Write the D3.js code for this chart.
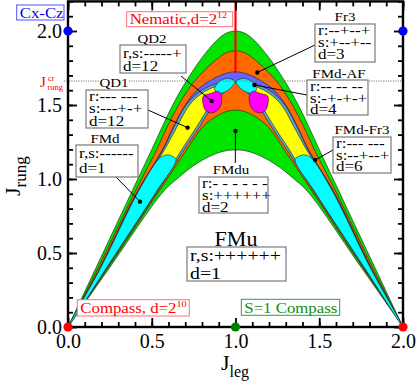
<!DOCTYPE html>
<html>
<head>
<meta charset="utf-8">
<script src="https://cdnjs.cloudflare.com/ajax/libs/d3/7.8.5/d3.min.js"></script>
<style>
body { margin: 0; background: #fff; }
svg { display: block; font-family: "Liberation Serif", "DejaVu Serif", serif; }
</style>
</head>
<body>
<div id="chart"></div>
<script>
// phase boundaries, left half only (J_leg <= 1), mirrored about J_leg = 1
var bOuterGreen  = [[0,0],[0.167,0.4],[0.38,0.912],[0.5,1.2],[0.56,1.347],[0.625,1.5],[0.7,1.65],[0.8,1.82],[0.9,1.95],[0.95,1.988],[1,2.0]];
var bFr3         = [[0,0],[0.18,0.4],[0.40,0.912],[0.53,1.2],[0.59,1.347],[0.66,1.5],[0.74,1.64],[0.82,1.74],[0.9,1.82],[0.95,1.855],[1,1.865]];
var bFMdAF       = [[0,0],[0.19,0.4],[0.412,0.912],[0.565,1.2],[0.627,1.347],[0.70,1.5],[0.77,1.6],[0.85,1.665],[0.92,1.705],[1,1.725]];
var bUpperStrip  = [[0,0],[0.192,0.4],[0.415,0.912],[0.568,1.2],[0.63,1.347],[0.705,1.5],[0.78,1.585],[0.86,1.635],[0.93,1.652],[1,1.655]];
var bQD1         = [[0,0],[0.195,0.4],[0.418,0.912],[0.577,1.2],[0.648,1.347],[0.725,1.5],[0.8,1.58],[0.88,1.625],[0.95,1.648],[1,1.655]];
var bLowerStrip  = [[0,0],[0.23,0.4],[0.525,0.912],[0.68,1.2],[0.765,1.347],[0.85,1.5],[0.9,1.57],[0.95,1.62],[1,1.655]];
var bLowerOrange = [[0,0],[0.235,0.4],[0.532,0.912],[0.695,1.2],[0.782,1.347],[0.868,1.5],[0.915,1.565],[0.96,1.62],[1,1.655]];
var bFMdu        = [[0,0],[0.24,0.4],[0.54,0.912],[0.71,1.2],[0.80,1.347],[0.86,1.405],[0.93,1.45],[1,1.466]];
var bFMu         = [[0,0],[0.248,0.4],[0.567,0.912],[0.65,1.0],[0.75,1.09],[0.85,1.155],[0.93,1.188],[1,1.196]];

// islands (left copies, mirrored too)
var fmdBlob   = [[0,0],[0.195,0.4],[0.418,0.912],[0.53,1.12],[0.56,1.152],[0.595,1.163],[0.625,1.152],[0.645,1.13],[0.526,0.912],[0.23,0.4]];
var cyanLobe  = [[0.875,1.61],[0.895,1.65],[0.93,1.675],[0.965,1.678],[0.99,1.667],[0.998,1.655],[0.98,1.625],[0.95,1.595],[0.91,1.58],[0.885,1.588]];
var qd2Lobe   = [[0.808,1.56],[0.85,1.577],[0.895,1.592],[0.915,1.57],[0.915,1.51],[0.893,1.465],[0.858,1.447],[0.824,1.46],[0.808,1.5]];

var jRungCr = 1.662;
var nematicTop = 1.716;

var phaseNames = ["QD2", "QD1", "FMd", "Fr3", "FMd-AF", "FMd-Fr3", "FMdu", "FMu"];
var phaseRS = [
    ["r,s:-----+", "d=12"],
    ["r:--- ---", "s:---+-+", "d=12"],
    ["r,s:------", "d=1"],
    ["r:--+--+", "s:+--+--", "d=3"],
    ["r:-- -- --", "s:-+-+-+", "d=4"],
    ["r:--- ---", "s:--+--+", "d=6"],
    ["r:- - - - - -", "s:++++++", "d=2"],
    ["r,s:++++++", "d=1"]
];
var phaseDots = [[0.858,1.527],[0.714,1.347],[0.43,0.847],[1.13,1.72],[1.113,1.635],[1.475,1.128],[1.0,1.324],null];

var xMajor = [0, 0.5, 1.0, 1.5, 2.0];
var yMajor = [0, 0.5, 1.0, 1.5, 2.0];

var W = 416, H = 384;
var SX = 1.2;

var svg = d3.select("#chart").append("svg")
    .attr("width", W)
    .attr("height", H);

var x = d3.scaleLinear().domain([0, 2]).range([68, 403]);
var y = d3.scaleLinear().domain([0, 2.2]).range([327, 1.4]);

var cr = d3.line().x(function(d){ return x(d[0]); }).y(function(d){ return y(d[1]); })
    .curve(d3.curveCatmullRom.alpha(0.5));
var crClosed = d3.line().x(function(d){ return x(d[0]); }).y(function(d){ return y(d[1]); })
    .curve(d3.curveCatmullRomClosed.alpha(0.5));

function mirror(pts){ return pts.map(function(p){ return [2 - p[0], p[1]]; }); }

function domePath(left, cusp){
    if (!cusp) {
        var right = mirror(left.slice(0, -1)).reverse();
        return cr(left.concat(right)) + "Z";
    }
    var r = mirror(left).reverse();
    return cr(left) + cr(r).replace(/^M/, "L") + "Z";
}

var GREEN = "#00e400", ORANGE = "#ff6a00", BLUE = "#6464ff", STEEL = "#58a6cc",
    YELLOW = "#ffff00", CYAN = "#00ffff", MAGENTA = "#ff00ff";

var domes = [
    { pts: bOuterGreen, fill: GREEN, cusp: false },
    { pts: bFr3, fill: ORANGE, cusp: false },
    { pts: bFMdAF, fill: BLUE, cusp: false },
    { pts: bUpperStrip, fill: STEEL, cusp: true },
    { pts: bQD1, fill: YELLOW, cusp: true },
    { pts: bLowerStrip, fill: STEEL, cusp: true },
    { pts: bLowerOrange, fill: ORANGE, cusp: true },
    { pts: bFMdu, fill: GREEN, cusp: false },
    { pts: bFMu, fill: "#ffffff", cusp: false }
];

var regions = svg.append("g");
domes.forEach(function(d){
    regions.append("path")
        .attr("d", domePath(d.pts, d.cusp))
        .attr("fill", d.fill)
        .attr("stroke", "#1a1a1a")
        .attr("stroke-width", 0.6);
});

// islands
[[fmdBlob, CYAN], [cyanLobe, CYAN], [qd2Lobe, MAGENTA]].forEach(function(isl){
    [isl[0], mirror(isl[0])].forEach(function(p){
        regions.append("path")
            .attr("d", crClosed(p))
            .attr("fill", isl[1])
            .attr("stroke", "#1a1a1a")
            .attr("stroke-width", 0.6);
    });
});

// nematic line
svg.append("line")
    .attr("x1", x(1)).attr("x2", x(1))
    .attr("y1", y(2.2)).attr("y2", y(nematicTop))
    .attr("stroke", "#ff0000").attr("stroke-width", 2.2);

// critical rung line
svg.append("line")
    .attr("x1", x(0) - 4).attr("x2", x(2))
    .attr("y1", y(jRungCr)).attr("y2", y(jRungCr))
    .attr("stroke", "#777").attr("stroke-width", 1)
    .attr("stroke-dasharray", "1.2,1.2");

function tx(parent, px, py, size, anchor, sx){
    return parent.append("g")
        .attr("transform", "translate(" + px + "," + py + ") scale(" + (sx || SX) + ",1)")
        .append("text")
        .attr("font-size", size)
        .attr("text-anchor", anchor || "start");
}

// annotation layout (pixels)
var layout = [
    { nx: 152, ny: 43,  bx: 120, by: 45,  bw: 66, bh: 28, base: [57.5, 71],          lx: 181, ly: 76 },
    { nx: 114, ny: 87,  bx: 86,  by: 90,  bw: 62, bh: 38, base: [100.5, 113, 125.5], lx: 148, ly: 110 },
    { nx: 105, ny: 143, bx: 76,  by: 145, bw: 62, bh: 32, base: [158, 173],          lx: 116, ly: 177 },
    { nx: 345, ny: 21,  bx: 315, by: 24,  bw: 60, bh: 38, base: [35, 47, 59],        lx: 315, ly: 45 },
    { nx: 339, ny: 78,  bx: 307, by: 80,  bw: 61, bh: 35, base: [91, 102.5, 113.5],  lx: 307, ly: 95 },
    { nx: 362, ny: 134, bx: 333, by: 137, bw: 58, bh: 36, base: [148, 159.5, 171],   lx: 333, ly: 150 },
    { nx: 231, ny: 174, bx: 199, by: 177, bw: 69, bh: 36, base: [188, 200, 211.5],   lx: 235.3, ly: 163 },
    { nx: 236, ny: 245.5, bx: 187, by: 247, bw: 99, bh: 34, base: [261, 279],        lx: null, ly: null }
];

var ann = svg.append("g");

// white patch behind QD1 name (breaks the dotted line)
ann.append("rect").attr("x", 100).attr("y", 77).attr("width", 28).attr("height", 11).attr("fill", "#fff");

phaseNames.forEach(function(name, i){
    var L = layout[i];
    var big = (name === "FMu");
    if (phaseDots[i]) {
        ann.append("line")
            .attr("x1", L.lx).attr("y1", L.ly)
            .attr("x2", x(phaseDots[i][0])).attr("y2", y(phaseDots[i][1]))
            .attr("stroke", "#000").attr("stroke-width", 1);
        ann.append("circle")
            .attr("cx", x(phaseDots[i][0])).attr("cy", y(phaseDots[i][1]))
            .attr("r", 2.2).attr("fill", "#000");
    }
    tx(ann, L.nx, L.ny, big ? 22 : 12.5, "middle", big ? 1 : SX).text(name);
    ann.append("rect")
        .attr("x", L.bx).attr("y", L.by).attr("width", L.bw).attr("height", L.bh)
        .attr("fill", "#fff").attr("stroke", "#7a7a7a").attr("stroke-width", 1.2);
    phaseRS[i].forEach(function(line, j){
        tx(ann, L.bx + 3, L.base[j], big ? 16.5 : 14.2, "start").text(line);
    });
});

// frame and axes
svg.append("rect")
    .attr("x", x(0)).attr("y", y(2.2))
    .attr("width", x(2) - x(0)).attr("height", y(0) - y(2.2))
    .attr("fill", "none").attr("stroke", "#000").attr("stroke-width", 2.4);

var xMinor = d3.range(0, 21).map(function(i){ return i / 10; });
var yMinor = d3.range(0, 23).map(function(i){ return i / 10; });
var fmt = d3.format(".1f");

function addAxis(gen, tr){
    var g = svg.append("g").attr("transform", tr).call(gen);
    g.select(".domain").remove();
    g.selectAll(".tick line").attr("stroke-width", 1.8);
    g.selectAll(".tick text")
        .attr("font-family", "Liberation Serif, serif")
        .attr("font-size", 20)
        .attr("fill", "#000");
    return g;
}

addAxis(d3.axisBottom(x).tickValues(xMinor).tickSize(-5).tickFormat(""), "translate(0," + y(0) + ")");
addAxis(d3.axisBottom(x).tickValues(xMajor).tickSize(-9).tickPadding(7).tickFormat(fmt), "translate(0," + y(0) + ")");
addAxis(d3.axisTop(x).tickValues(xMinor).tickSize(-5).tickFormat(""), "translate(0," + y(2.2) + ")");
addAxis(d3.axisTop(x).tickValues(xMajor).tickSize(-9).tickFormat(""), "translate(0," + y(2.2) + ")");
addAxis(d3.axisLeft(y).tickValues(yMinor).tickSize(-5).tickFormat(""), "translate(" + x(0) + ",0)");
addAxis(d3.axisLeft(y).tickValues(yMajor).tickSize(-9).tickPadding(6).tickFormat(fmt), "translate(" + x(0) + ",0)");
addAxis(d3.axisRight(y).tickValues(yMinor).tickSize(-5).tickFormat(""), "translate(" + x(2) + ",0)");
addAxis(d3.axisRight(y).tickValues(yMajor).tickSize(-9).tickFormat(""), "translate(" + x(2) + ",0)");

// special points on the axes
var specials = [[0, 2, "#0000ff"], [2, 2, "#0000ff"], [0, 0, "#ff0000"], [2, 0, "#ff0000"], [1, 0, "#008000"]];
specials.forEach(function(s){
    svg.append("circle").attr("cx", x(s[0])).attr("cy", y(s[1])).attr("r", 4.6).attr("fill", s[2]);
});

// limit-case boxes
function tagBox(bx, by, bw, bh, color, border, base, main, sup){
    svg.append("rect").attr("x", bx).attr("y", by).attr("width", bw).attr("height", bh)
        .attr("fill", "#fff").attr("stroke", border).attr("stroke-width", 1);
    var t = tx(svg, bx + 3, base, 14, "start").attr("fill", color);
    t.append("tspan").text(main);
    if (sup) t.append("tspan").attr("font-size", 8.5).attr("dy", -6).text(sup);
}
tagBox(126.7, 11.7, 106, 15, "#ff0000", "#ff7070", 24, "Nematic,d=2", "12");
tagBox(77.3, 299.7, 112, 16.3, "#ff0000", "#ff7070", 312.5, "Compass, d=2", "10");
tagBox(241.3, 299.3, 98.4, 16, "#108c10", "#30a030", 312.5, "S=1 Compass", null);
tagBox(16.7, 5, 47.3, 15, "#0000ff", "#5050ff", 17.5, "Cx-Cz", null);

// J_rung^cr marker
var jcr = svg.append("text").attr("fill", "#ff0000");
jcr.append("tspan").attr("x", 40).attr("y", 87).attr("font-size", 15).text("J");
jcr.append("tspan").attr("x", 48).attr("y", 81).attr("font-size", 8.5).text("cr");
jcr.append("tspan").attr("x", 47.5).attr("y", 90).attr("font-size", 8.5).text("rung");

// axis titles
var xt = svg.append("text").attr("x", 221).attr("y", 370);
xt.append("tspan").attr("font-size", 22).text("J");
xt.append("tspan").attr("font-size", 16).attr("dy", 7).text("leg");

var yt = svg.append("text").attr("transform", "translate(20,196) rotate(-90)");
yt.append("tspan").attr("font-size", 22).text("J");
yt.append("tspan").attr("font-size", 17).attr("dy", 6).text("rung");
</script>
</body>
</html>
